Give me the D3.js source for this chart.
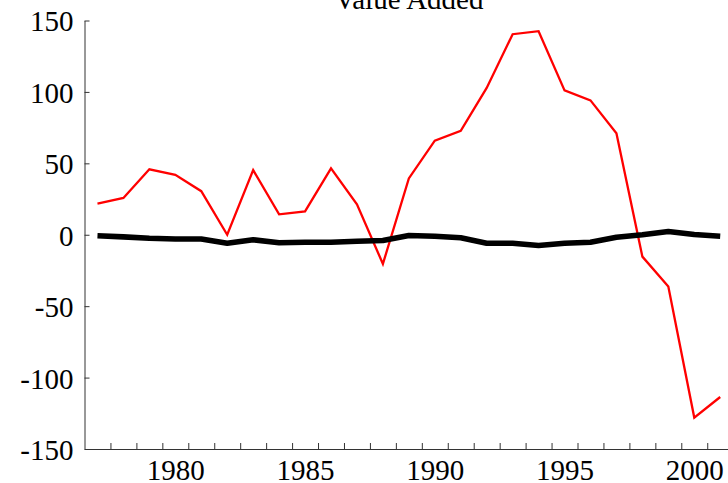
<!DOCTYPE html>
<html>
<head>
<meta charset="utf-8">
<script src="https://cdn.jsdelivr.net/npm/d3@7"></script>
<style>
  body { margin: 0; background: #fff; }
  svg { display: block; }
</style>
</head>
<body>
<div id="chart"></div>
<script>
// Series
const years = d3.range(1977, 2002);
const redValues = [21.8, 25.8, 45.8, 42, 30.5, 0, 45.3, 14.3, 16.4, 46.5, 21.3, -20.4, 39.4,
                   65.9, 72.7, 102.8, 140.4, 142.5, 101.1, 94.1, 71.1, -15.3, -36.2, -128, -113.6];
const blackValues = [-0.7, -1.5, -2.5, -3, -3, -5.9, -3.5, -5.6, -5.3, -5.3, -4.5, -4, -0.5,
                     -1, -2.1, -5.9, -5.9, -7.5, -5.9, -5.2, -1.7, 0, 2.3, 0.2, -1];
const yTicks = [-150, -100, -50, 0, 50, 100, 150];
const xLabels = [1980, 1985, 1990, 1995, 2000];
const title = 'Value Added';

const width = 728, height = 483;

const svg = d3.select('#chart')
    .append('svg')
    .attr('width', width)
    .attr('height', height);

// ticks fall on year boundaries, points and labels on the year itself
const x = d3.scaleLinear().domain([1976.5, 2001.3]).range([84.5, 728]);
const y = d3.scaleLinear().domain([-150, 150]).range([449, 20.5]);

// Y axis, ticks pointing inward
svg.append('g')
    .attr('class', 'y-axis')
    .attr('transform', `translate(${x(1976.5)},0)`)
    .call(d3.axisLeft(y).tickValues(yTicks).tickSizeInner(-5).tickSizeOuter(0)
        .tickPadding(11).tickFormat(d => String(d)));
svg.selectAll('.y-axis text').attr('dy', '0.36em');

// X axis: minor ticks between years
svg.append('g')
    .attr('transform', `translate(0,${y(-150)})`)
    .call(d3.axisBottom(x)
        .tickValues(d3.range(1977.5, 2001, 1))
        .tickSizeInner(-6).tickSizeOuter(0)
        .tickFormat(''));

// X labels centred on the years
const xLab = svg.append('g')
    .attr('transform', `translate(0,${y(-150)})`)
    .call(d3.axisBottom(x).tickValues(xLabels).tickSize(0).tickPadding(10).tickFormat(d => String(d)));
xLab.select('.domain').remove();

svg.selectAll('.domain, .tick line').attr('stroke', '#333').attr('stroke-width', 1);

const line = d3.line()
    .x((d, i) => x(years[i]))
    .y(d => y(d));

svg.append('path')
    .datum(redValues)
    .attr('fill', 'none')
    .attr('stroke', '#ff0000')
    .attr('stroke-width', 2.3)
    .attr('d', line);

svg.append('path')
    .datum(blackValues)
    .attr('fill', 'none')
    .attr('stroke', '#000')
    .attr('stroke-width', 5.6)
    .attr('stroke-linejoin', 'round')
    .attr('d', line);

svg.append('text')
    .attr('x', 409)
    .attr('y', 9)
    .attr('text-anchor', 'middle')
    .text(title);

svg.selectAll('text')
    .attr('fill', '#000')
    .attr('font-family', 'Liberation Serif')
    .attr('font-size', 29)
    .style('font-family', '"Liberation Serif"')
    .style('font-size', '29px');
</script>
</body>
</html>
